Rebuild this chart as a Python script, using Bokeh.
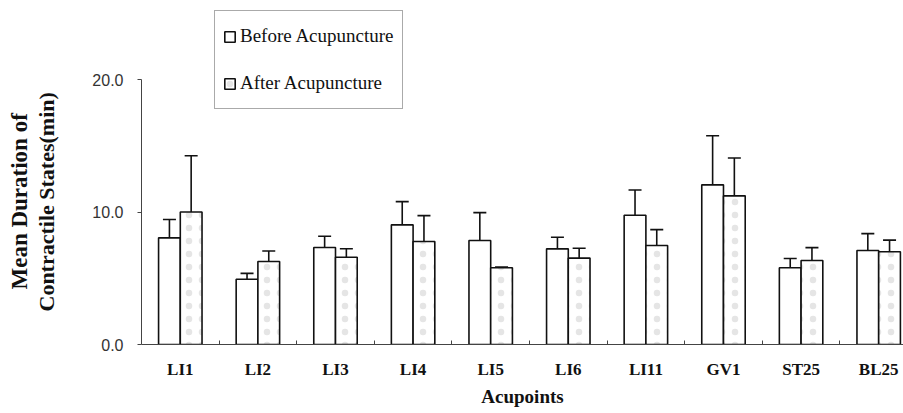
from bokeh.plotting import figure
from bokeh.models import (ColumnDataSource, Range1d, FixedTicker, Whisker, TeeHead,
                          Legend, LegendItem, Title, NumeralTickFormatter)
from bokeh.embed import file_html
from bokeh.resources import INLINE

categories = ["LI1", "LI2", "LI3", "LI4", "LI5", "LI6", "LI11", "GV1", "ST25", "BL25"]
before_mean = [8.05, 4.93, 7.32, 9.03, 7.85, 7.22, 9.76, 12.05, 5.79, 7.09]
before_err = [1.38, 0.44, 0.85, 1.75, 2.10, 0.87, 1.90, 3.70, 0.70, 1.28]
after_mean = [10.0, 6.26, 6.59, 7.77, 5.79, 6.52, 7.47, 11.22, 6.34, 7.00]
after_err = [4.25, 0.80, 0.64, 1.96, 0.05, 0.74, 1.20, 2.85, 0.97, 0.88]
y_ticks = [0, 10, 20]

SERIF = "Liberation Serif"
SANS = "Liberation Sans"

centers = [i + 0.5 for i in range(len(categories))]
off = 0.14
bw = 0.28

src_b = ColumnDataSource(dict(
    x=[c - off for c in centers], top=before_mean,
    upper=[m + e for m, e in zip(before_mean, before_err)],
    lower=[m - e for m, e in zip(before_mean, before_err)]))
src_a = ColumnDataSource(dict(
    x=[c + off for c in centers], top=after_mean,
    upper=[m + e for m, e in zip(after_mean, after_err)],
    lower=[m - e for m, e in zip(after_mean, after_err)]))

p = figure(width=903, height=413, output_backend="svg", toolbar_location=None,
           x_range=Range1d(0, 763 / 77.7), y_range=Range1d(0, 340 / 13.25),
           min_border_left=140, min_border_right=0, min_border_top=4, min_border_bottom=69)
p.outline_line_color = None
p.grid.grid_line_color = None
p.background_fill_color = "white"

rb = p.vbar(x="x", top="top", bottom=0, width=bw, source=src_b,
            fill_color="white", line_color="#111", line_width=1.6)
ra = p.vbar(x="x", top="top", bottom=0, width=bw, source=src_a,
            fill_color="white", line_color="#111", line_width=1.6,
            hatch_pattern=".", hatch_color="#d0d0d0", hatch_scale=13, hatch_weight=1, hatch_alpha=0.55)

for src in (src_b, src_a):
    w = Whisker(base="x", upper="upper", lower="lower", source=src,
                line_color="#111", line_width=1.6,
                upper_head=TeeHead(size=13, line_color="#111", line_width=1.6),
                lower_head=TeeHead(size=13, line_color="#111", line_width=1.6))
    p.add_layout(w)

# x axis
xa = p.xaxis[0]
xa.ticker = FixedTicker(ticks=centers, minor_ticks=[float(i) for i in range(1, len(categories) + 1)])
xa.major_label_overrides = {c: lab for c, lab in zip(centers, categories)}
xa.major_tick_line_color = None
xa.major_tick_in = 0
xa.major_tick_out = 0
xa.minor_tick_in = 4
xa.minor_tick_out = 0
xa.minor_tick_line_color = "#444"
xa.axis_line_color = "#444"
xa.axis_line_width = 1
xa.major_label_standoff = 15
xa.major_label_text_font = SERIF
xa.major_label_text_font_style = "bold"
xa.major_label_text_font_size = "17px"
xa.major_label_text_color = "#111"
xa.axis_label = "Acupoints"
xa.axis_label_text_font = SERIF
xa.axis_label_text_font_style = "bold"
xa.axis_label_text_font_size = "19px"
xa.axis_label_text_color = "#111"
xa.axis_label_standoff = 4

# y axis
ya = p.yaxis[0]
ya.ticker = FixedTicker(ticks=y_ticks, minor_ticks=[])
ya.formatter = NumeralTickFormatter(format="0.0")
ya.bounds = (0, 20)
ya.major_tick_in = 0
ya.major_tick_out = 4
ya.major_tick_line_color = "#444"
ya.axis_line_color = "#444"
ya.major_label_standoff = 14
ya.major_label_text_font = SANS
ya.major_label_text_font_size = "16px"
ya.major_label_text_color = "#333"

# y axis title (two lines)
for txt, so, offs, fs in (("Contractile States(min)", 62, 33, "22px"),
                          ("Mean Duration of", -62, 55, "23px")):
    p.add_layout(Title(text=txt, align="left", offset=offs, standoff=so,
                       text_font=SERIF, text_font_style="bold", text_font_size=fs,
                       text_color="#111"), "left")

legend = Legend(items=[LegendItem(label="Before Acupuncture", renderers=[rb]),
                       LegendItem(label="After Acupuncture", renderers=[ra])],
                location=(73, 235), orientation="vertical",
                label_text_font=SERIF, label_text_font_size="19px", label_text_color="#111",
                glyph_width=13, glyph_height=13, label_height=34, label_standoff=4,
                spacing=13, padding=8, margin=0,
                border_line_color="#555", border_line_width=1,
                background_fill_color="white", background_fill_alpha=1)
p.add_layout(legend, "center")

open("out.html", "w").write(file_html(p, INLINE))
